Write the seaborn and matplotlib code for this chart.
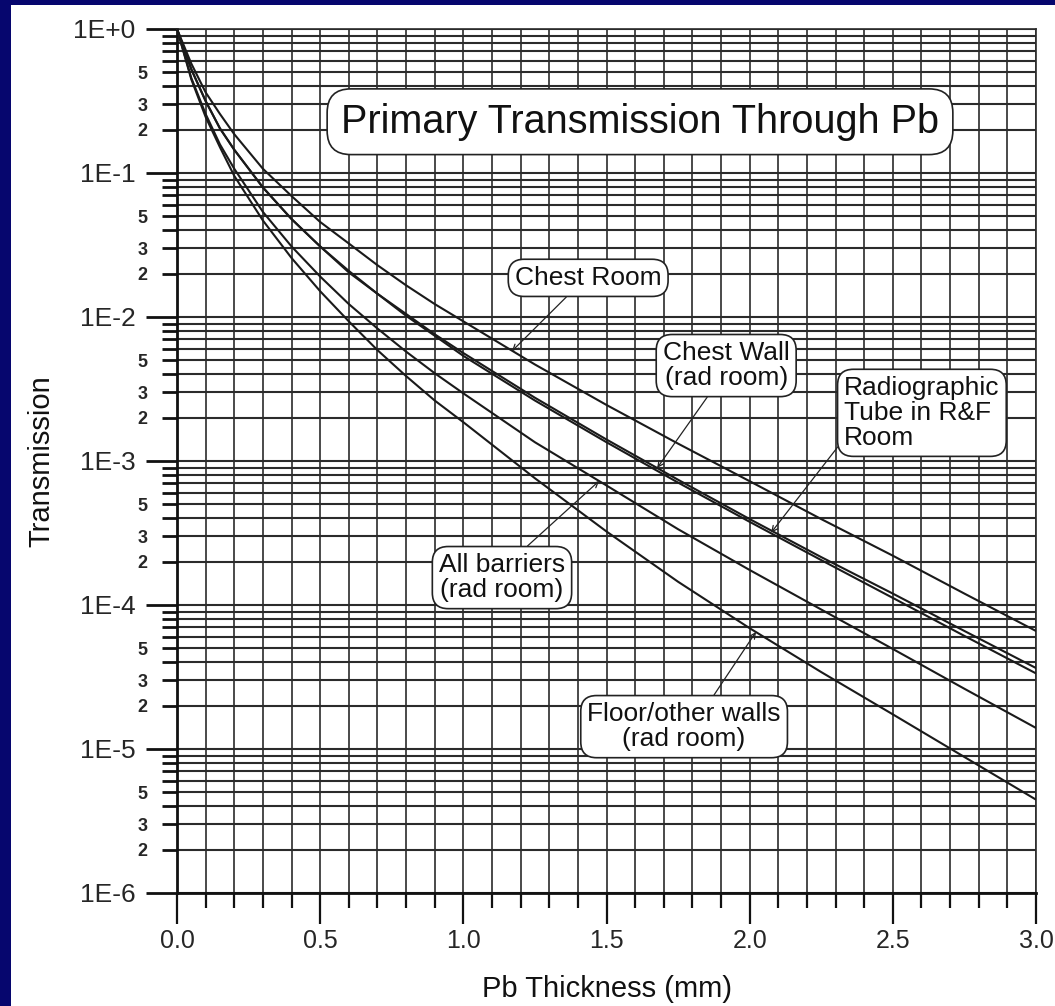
import matplotlib
matplotlib.use("Agg")
import matplotlib.pyplot as plt
import seaborn as sns
from matplotlib import ticker
from matplotlib.patches import Rectangle

# %%
# Pb thickness (mm) and transmission
thickness = [0, 0.05, 0.1, 0.15, 0.2, 0.3, 0.4, 0.5, 0.6, 0.7, 0.8, 0.9, 1.0,
             1.25, 1.5, 1.75, 2.0, 2.25, 2.5, 2.75, 3.0]

chest_room = [1.0, 0.575, 0.363, 0.257, 0.186, 0.107, 0.0692, 0.0457, 0.0324,
              0.0229, 0.0166, 0.0123, 0.00933, 0.00468, 0.00245, 0.00132,
              7.24e-4, 3.95e-4, 2.2e-4, 1.2e-4, 6.6e-5]

chest_wall = [1.0, 0.525, 0.316, 0.204, 0.145, 0.0794, 0.0479, 0.0309, 0.0209,
              0.0145, 0.0105, 0.00759, 0.00562, 0.00275, 0.00141, 7.41e-4,
              3.95e-4, 2.15e-4, 1.2e-4, 6.6e-5, 3.65e-5]

rf_tube = [1.0, 0.525, 0.316, 0.204, 0.145, 0.0794, 0.0479, 0.0309, 0.0204,
           0.0145, 0.0102, 0.00741, 0.00537, 0.00263, 0.00135, 7.08e-4,
           3.78e-4, 2.05e-4, 1.12e-4, 6.1e-5, 3.35e-5]

all_barriers = [1.0, 0.457, 0.257, 0.158, 0.107, 0.0537, 0.0309, 0.0191, 0.0123,
                0.00832, 0.00575, 0.00407, 0.00295, 0.00135, 6.76e-4, 3.36e-4,
                1.75e-4, 9.3e-5, 4.95e-5, 2.62e-5, 1.4e-5]

floor_walls = [1.0, 0.447, 0.245, 0.151, 0.0955, 0.0468, 0.0257, 0.0151, 0.00933,
               0.00589, 0.00389, 0.00263, 0.00186, 7.59e-4, 3.24e-4, 1.45e-4,
               6.9e-5, 3.42e-5, 1.74e-5, 8.8e-6, 4.45e-6]

series = [chest_room, chest_wall, rf_tube, all_barriers, floor_walls]

major_labels = ["1E+0", "1E-1", "1E-2", "1E-3", "1E-4", "1E-5", "1E-6"]

# %%
sns.set_theme(style="white")
plt.rcParams["font.family"] = ["Liberation Sans", "DejaVu Sans"]

fig = plt.figure(figsize=(10.55, 10.06), dpi=100, facecolor="#06066e")
fig.patches.append(Rectangle((11 / 1055, 0), 1 - 11 / 1055, 1 - 5 / 1006,
                             transform=fig.transFigure, facecolor="white",
                             edgecolor="none", zorder=-10))

ax = fig.add_axes([177 / 1055, 1 - 893 / 1006, (1036 - 177) / 1055, (893 - 29) / 1006])
ax.set_facecolor("white")
ax.set_yscale("log")
ax.set_xlim(0, 3.0)
ax.set_ylim(1e-6, 1.0)

for s in series:
    sns.lineplot(x=thickness, y=s, ax=ax, color="#1a1a1a", lw=1.5, sort=False, zorder=3)

# grid: every 0.1 mm and every log sub-division
ax.xaxis.set_major_locator(ticker.MultipleLocator(0.5))
ax.xaxis.set_minor_locator(ticker.MultipleLocator(0.1))
ax.xaxis.set_major_formatter(ticker.FormatStrFormatter("%.1f"))
ax.yaxis.set_major_locator(ticker.FixedLocator([10.0 ** -k for k in range(7)]))
ax.yaxis.set_major_formatter(ticker.FixedFormatter(major_labels))
ax.yaxis.set_minor_locator(ticker.LogLocator(base=10, subs=range(2, 10), numticks=100))


def minor_fmt(v, pos):
    lead = round(v / 10 ** int(f"{v:e}".split("e")[1]))
    return str(lead) if lead in (2, 3, 5) else ""


ax.yaxis.set_minor_formatter(ticker.FuncFormatter(minor_fmt))

ax.grid(True, which="both", axis="x", color="#2b2b2b", lw=1.2)
ax.grid(True, which="both", axis="y", color="#2b2b2b", lw=1.5)
ax.set_axisbelow(True)

ax.tick_params(which="both", left=True, bottom=True)
ax.tick_params(axis="y", which="major", direction="out", length=22, width=2,
               pad=8, labelsize=19, color="#111")
ax.tick_params(axis="y", which="minor", direction="out", length=11, width=2,
               pad=10, labelsize=13, color="#111")
ax.tick_params(axis="x", which="major", direction="out", length=22, width=1.6,
               pad=4, labelsize=18, color="#111")
ax.tick_params(axis="x", which="minor", direction="out", length=11, width=1.6,
               color="#111")
for lab in ax.yaxis.get_minorticklabels():
    lab.set_fontweight("bold")

for side in ["left", "bottom"]:
    ax.spines[side].set_color("#111")
    ax.spines[side].set_linewidth(2)
for side in ["top", "right"]:
    ax.spines[side].set_color("#2b2b2b")
    ax.spines[side].set_linewidth(1.2)

ax.set_xlabel("Pb Thickness (mm)", fontsize=21, labelpad=16, color="#111")
ax.set_ylabel("Transmission", fontsize=21, color="#111")
ax.yaxis.set_label_coords(-0.142, 0.5)

# title box
ax.text(1.617, 0.227, "Primary Transmission Through Pb", fontsize=28.5,
        ha="center", va="center", color="#111", zorder=5,
        bbox=dict(boxstyle="round,pad=0.35,rounding_size=0.6", fc="white",
                  ec="#222", lw=1.2))

box = dict(boxstyle="round,pad=0.25,rounding_size=0.6", fc="white", ec="#222", lw=1.2)
arrow = dict(arrowstyle="->", lw=0.9, color="#222", shrinkA=0, shrinkB=0,
             mutation_scale=10)

notes = [
    ("Chest Room", (1.17, 5.8e-3), (1.436, 0.0187), "center", (0.4, 0)),
    ("Chest Wall\n(rad room)", (1.677, 8.95e-4), (1.918, 4.6e-3), "center", (0.39, 0)),
    ("Radiographic\nTube in R&F\nRoom", (2.075, 3.18e-4), (2.33, 2.16e-3), "left", (0, 0.15)),
    ("All barriers\n(rad room)", (1.474, 7.26e-4), (1.135, 1.55e-4), "center", (0.64, 1)),
    ("Floor/other walls\n(rad room)", (2.022, 6.5e-5), (1.771, 1.43e-5), "center", (0.63, 1)),
]
for txt, tip, pos, align, rel in notes:
    ha = "left" if align == "left" else "center"
    ax.annotate(txt, xy=tip, xytext=pos, fontsize=19, ha=ha, va="center",
                multialignment=align, linespacing=1.05, color="#111", zorder=6,
                bbox=box, arrowprops=dict(arrow, relpos=rel))

fig.savefig("out.png", dpi=100, facecolor=fig.get_facecolor())
